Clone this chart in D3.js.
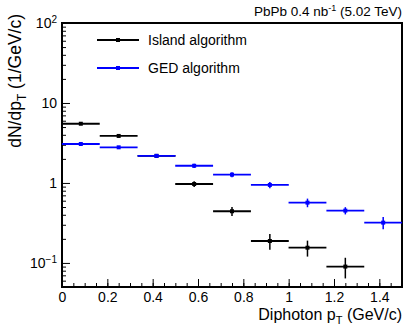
<!DOCTYPE html>
<html>
<head>
<meta charset="utf-8">
<script src="https://cdn.jsdelivr.net/npm/d3@7"></script>
<style>
  body { margin: 0; background: #fff; }
  svg { display: block; font-family: "Liberation Sans", Arial, sans-serif; }
  .axis path { display: none; }
  .axis line { stroke: #000; stroke-width: 1; }
  .axis text { fill: #000; font-size: 14px; }
</style>
</head>
<body>
<svg id="chart" width="405" height="326"></svg>
<script>
/* ---------------- DATA ---------------- */
const binCenters = [0.083, 0.25, 0.417, 0.583, 0.75, 0.917, 1.083, 1.25, 1.417];
const binWidth = 0.167;

const islandValues = [5.5, 3.87, 2.18, 0.97, 0.443, 0.188, 0.155, 0.090, null];
const islandErrors = [0.2, 0.15, 0.1, 0.08, 0.057, 0.042, 0.035, 0.026, null];

const gedValues = [3.07, 2.79, 2.18, 1.64, 1.27, 0.944, 0.567, 0.451, 0.319];
const gedErrors = [0.06, 0.07, 0.08, 0.1, 0.094, 0.085, 0.07, 0.047, 0.055];

const xMajorTicks = [0, 0.2, 0.4, 0.6, 0.8, 1, 1.2, 1.4];
const xTickLabels = ["0", "0.2", "0.4", "0.6", "0.8", "1", "1.2", "1.4"];
const yMajorTicks = [0.1, 1, 10, 100];
const yTickLabels = [["10", "\u22121"], ["1", ""], ["10", ""], ["10", "2"]];

const series = [
  { name: "Island algorithm", color: "#000000", values: islandValues, errors: islandErrors },
  { name: "GED algorithm", color: "#0000ff", values: gedValues, errors: gedErrors }
];

/* ---------------- SVG SETUP ---------------- */
const svg = d3.select("#chart");
const frame = { left: 62, right: 402, top: 23, bottom: 287 };

const x = d3.scaleLinear().domain([0, 1.5]).range([frame.left, frame.right]);
const y = d3.scaleLog().domain([0.05, 100]).range([frame.bottom, frame.top]);

/* minor ticks */
const xMinor = d3.range(0, 1.5001, 0.05).map(v => +v.toFixed(2));
const yMinor = [];
[0.01, 0.1, 1, 10].forEach(d => {
  for (let k = 2; k <= 9; k++) {
    const v = d * k;
    if (v >= 0.05 && v <= 100) yMinor.push(v);
  }
});

/* ---------------- AXES ---------------- */
svg.append("g")
  .attr("class", "axis")
  .attr("transform", `translate(0,${frame.bottom})`)
  .call(d3.axisBottom(x).tickValues(xMinor).tickSize(-4).tickFormat(""));

svg.append("g")
  .attr("class", "axis")
  .attr("transform", `translate(0,${frame.bottom})`)
  .call(d3.axisBottom(x).tickValues(xMajorTicks).tickSize(-8).tickPadding(5)
    .tickFormat((d, i) => xTickLabels[i]));

svg.append("g")
  .attr("class", "axis")
  .attr("transform", `translate(${frame.left},0)`)
  .call(d3.axisLeft(y).tickValues(yMinor).tickSize(-4).tickFormat(""));

const yAxis = svg.append("g")
  .attr("class", "axis")
  .attr("transform", `translate(${frame.left},0)`)
  .call(d3.axisLeft(y).tickValues(yMajorTicks).tickSize(-8).tickPadding(5).tickFormat(""));

/* y labels with superscripts */
yAxis.selectAll(".tick text").each(function(d, i) {
  const t = d3.select(this);
  const [base, sup] = yTickLabels[i];
  t.text(null);
  t.append("tspan").text(base);
  if (sup) {
    t.append("tspan").attr("dy", -5).attr("font-size", "10px").text(sup);
  }
});

/* ---------------- FRAME ---------------- */
svg.append("rect")
  .attr("x", frame.left)
  .attr("y", frame.top)
  .attr("width", frame.right - frame.left)
  .attr("height", frame.bottom - frame.top)
  .attr("fill", "none")
  .attr("stroke", "#000")
  .attr("stroke-width", 2);

/* ---------------- DATA POINTS ---------------- */
const plot = svg.append("g");

series.forEach(s => {
  const pts = binCenters.map((c, i) => ({ c, v: s.values[i], e: s.errors[i] }))
    .filter(p => p.v != null);
  const g = plot.append("g").attr("stroke", s.color).attr("fill", s.color);

  g.selectAll(".hbar").data(pts).enter().append("line")
    .attr("x1", d => x(d.c - binWidth / 2))
    .attr("x2", d => x(d.c + binWidth / 2))
    .attr("y1", d => y(d.v))
    .attr("y2", d => y(d.v))
    .attr("stroke-width", 1.8);

  g.selectAll(".vbar").data(pts).enter().append("line")
    .attr("x1", d => x(d.c))
    .attr("x2", d => x(d.c))
    .attr("y1", d => y(d.v + d.e))
    .attr("y2", d => y(Math.max(d.v - d.e, 0.05)))
    .attr("stroke-width", 1.5);

  g.selectAll(".marker").data(pts).enter().append("rect")
    .attr("x", d => x(d.c) - 2)
    .attr("y", d => y(d.v) - 2)
    .attr("width", 4)
    .attr("height", 4)
    .attr("stroke", "none");
});

/* ---------------- LEGEND ---------------- */
const legend = svg.append("g");
series.forEach((s, i) => {
  const ly = 40 + i * 28;
  legend.append("line")
    .attr("x1", 97).attr("x2", 139)
    .attr("y1", ly).attr("y2", ly)
    .attr("stroke", s.color).attr("stroke-width", 1.8);
  legend.append("rect")
    .attr("x", 116).attr("y", ly - 2)
    .attr("width", 4).attr("height", 4)
    .attr("fill", s.color);
  legend.append("text")
    .attr("x", 148).attr("y", ly + 5)
    .attr("font-size", 14)
    .text(s.name);
});

/* ---------------- TITLES ---------------- */
// sub/superscripts shift in px so the baseline comes back exactly
const topText = svg.append("text")
  .attr("x", 402).attr("y", 16)
  .attr("text-anchor", "end")
  .attr("font-size", 13.5);
topText.append("tspan").text("PbPb 0.4 nb");
topText.append("tspan").attr("dy", -5).attr("font-size", 9).text("-1");
topText.append("tspan").attr("dy", 5).text(" (5.02 TeV)");

const xTitle = svg.append("text")
  .attr("x", 402).attr("y", 320)
  .attr("text-anchor", "end")
  .attr("font-size", 16);
xTitle.append("tspan").text("Diphoton p");
xTitle.append("tspan").attr("dy", 4).attr("font-size", 11).text("T");
xTitle.append("tspan").attr("dy", -4).text(" (GeV/c)");

const yTitle = svg.append("text")
  .attr("transform", "translate(21,14) rotate(-90)")
  .attr("text-anchor", "end")
  .attr("font-size", 17.5);
yTitle.append("tspan").text("dN/dp");
yTitle.append("tspan").attr("dy", 5).attr("font-size", 12).text("T");
yTitle.append("tspan").attr("dy", -5).text(" (1/GeV/c)");
</script>
</body>
</html>
